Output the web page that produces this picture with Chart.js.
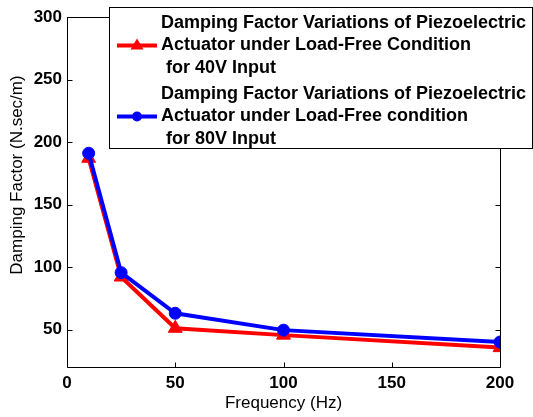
<!DOCTYPE html>
<html>
<head>
<meta charset="utf-8">
<script src="https://cdn.jsdelivr.net/npm/chart.js@4/dist/chart.umd.min.js"></script>
<style>
html,body{margin:0;padding:0;background:#fff;}
#wrap{width:533px;height:417px;position:relative;}
</style>
</head>
<body>
<div id="wrap"><canvas id="c" width="533" height="417"></canvas></div>
<script>
// ---- data ----
const frequencies = [10, 25, 50, 100, 200];
const damping40V = [187, 92, 51, 45.5, 35.5];
const damping80V = [191, 95.5, 63, 49.5, 40];
const yTickValues = [50, 100, 150, 200, 250, 300];
const xTickValues = [0, 50, 100, 150, 200];
const label40V = ["Damping Factor Variations of Piezoelectric", "Actuator under Load-Free Condition", " for 40V Input"];
const label80V = ["Damping Factor Variations of Piezoelectric", "Actuator under Load-Free condition", " for 80V Input"];
const xTitle = "Frequency (Hz)";
const yTitle = "Damping Factor (N.sec/m)";

const FONT = "'Liberation Sans', Arial, Helvetica, sans-serif";

const framePlugin = {
  id: 'frame',
  afterDatasetsDraw(chart) {
    const ctx = chart.ctx, a = chart.chartArea;
    const xs = chart.scales.x, ys = chart.scales.y;
    ctx.save();
    ctx.strokeStyle = '#000';
    ctx.lineWidth = 1;
    const L = Math.round(a.left) + 0.5, R = Math.round(a.right) + 0.5;
    const T = Math.round(a.top) + 0.5, B = Math.round(a.bottom) + 0.5;
    ctx.beginPath();
    ctx.rect(L, T, R - L, B - T);
    ctx.stroke();
    const tl = 5;
    ctx.beginPath();
    xTickValues.forEach(v => {
      const px = Math.round(xs.getPixelForValue(v)) + 0.5;
      ctx.moveTo(px, B); ctx.lineTo(px, B - tl);
      ctx.moveTo(px, T); ctx.lineTo(px, T + tl);
    });
    yTickValues.forEach(v => {
      const py = Math.round(ys.getPixelForValue(v)) + 0.5;
      ctx.moveTo(L, py); ctx.lineTo(L + tl, py);
      ctx.moveTo(R, py); ctx.lineTo(R - tl, py);
    });
    ctx.stroke();
    // y axis title
    ctx.save();
    ctx.translate(17, 175);
    ctx.rotate(-Math.PI / 2);
    ctx.fillStyle = '#000';
    ctx.font = '17px ' + FONT;
    ctx.textAlign = 'center';
    ctx.textBaseline = 'middle';
    ctx.fillText(yTitle, 0, 0);
    ctx.restore();
    ctx.restore();
  },
  afterDraw(chart) {
    const ctx = chart.ctx;
    ctx.save();
    const bx = 109.5, by = 7.5, bw = 423, bh = 141;
    ctx.fillStyle = '#fff';
    ctx.fillRect(bx, by, bw, bh);
    ctx.strokeStyle = '#000';
    ctx.lineWidth = 1;
    ctx.strokeRect(bx, by, bw, bh);
    const entries = [
      {ds: chart.data.datasets[0], y0: 23},
      {ds: chart.data.datasets[1], y0: 94}
    ];
    const lh = 22.5;
    entries.forEach(e => {
      const lines = e.ds.legendLines;
      const my = e.y0 + lh;
      ctx.strokeStyle = e.ds.borderColor;
      ctx.lineWidth = 4;
      ctx.beginPath();
      ctx.moveTo(117, my); ctx.lineTo(157, my);
      ctx.stroke();
      ctx.fillStyle = e.ds.borderColor;
      if (e.ds.pointStyle === 'triangle') {
        ctx.beginPath();
        ctx.moveTo(137, my - 7);
        ctx.lineTo(143.5, my + 4);
        ctx.lineTo(130.5, my + 4);
        ctx.closePath();
        ctx.fill();
      } else {
        ctx.beginPath();
        ctx.arc(137, my, 5, 0, Math.PI * 2);
        ctx.fill();
      }
      ctx.fillStyle = '#000';
      ctx.font = 'bold 18px ' + FONT;
      ctx.textBaseline = 'middle';
      ctx.textAlign = 'left';
      lines.forEach((t, i) => ctx.fillText(t, 161, e.y0 + i * lh));
    });
    ctx.restore();
  }
};

new Chart(document.getElementById('c'), {
  type: 'line',
  data: {
    datasets: [
      {
        label: label40V.join(' '),
        legendLines: label40V,
        data: frequencies.map((f, i) => ({x: f, y: damping40V[i]})),
        borderColor: '#ff0000',
        backgroundColor: '#ff0000',
        borderWidth: 4,
        pointStyle: 'triangle',
        pointRadius: 8,
        pointBorderWidth: 1,
        tension: 0,
        order: 2
      },
      {
        label: label80V.join(' '),
        legendLines: label80V,
        data: frequencies.map((f, i) => ({x: f, y: damping80V[i]})),
        borderColor: '#0000ff',
        backgroundColor: '#0000ff',
        borderWidth: 4,
        pointStyle: 'circle',
        pointRadius: 6,
        pointBorderWidth: 1,
        tension: 0,
        order: 1
      }
    ]
  },
  options: {
    responsive: false,
    animation: false,
    devicePixelRatio: 1,
    layout: {padding: {left: 0, right: 33, top: 17, bottom: 0}},
    plugins: {legend: {display: false}, tooltip: {enabled: false}},
    scales: {
      x: {
        type: 'linear',
        min: 0, max: 200,
        afterBuildTicks: s => { s.ticks = xTickValues.map(v => ({value: v})); },
        afterFit: s => { s.height = 50; },
        grid: {display: false, drawTicks: false},
        border: {display: false},
        ticks: {color: '#000', font: {family: FONT, size: 17, weight: 'bold'}, padding: 6, maxRotation: 0},
        title: {display: true, text: xTitle, color: '#000', font: {family: FONT, size: 17}, padding: {top: 0, bottom: 3}}
      },
      y: {
        type: 'linear',
        min: 20, max: 300,
        afterBuildTicks: s => { s.ticks = yTickValues.map(v => ({value: v})); },
        afterFit: s => { s.width = 67; },
        grid: {display: false, drawTicks: false},
        border: {display: false},
        ticks: {color: '#000', font: {family: FONT, size: 17, weight: 'bold'}, padding: 5},
        title: {display: false}
      }
    }
  },
  plugins: [framePlugin]
});
</script>
</body>
</html>
